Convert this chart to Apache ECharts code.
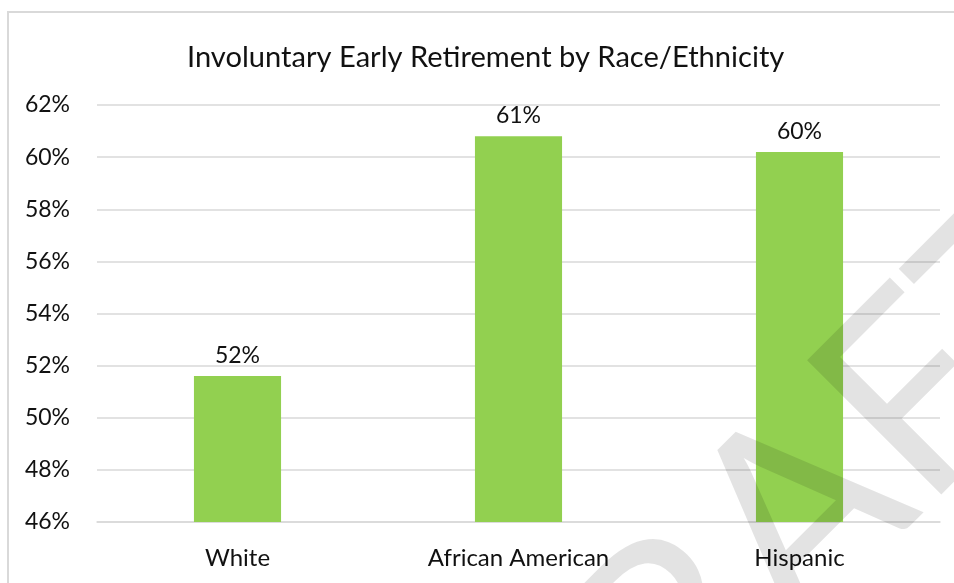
<!DOCTYPE html>
<html><head><meta charset="utf-8">
<script src="https://cdn.jsdelivr.net/npm/echarts@6/dist/echarts.min.js"></script>
<style>html,body{margin:0;padding:0;background:#fff}#c{width:954px;height:583px}</style>
</head><body><div id="c"></div>
<script>
const categories = ['White', 'African American', 'Hispanic'];
const values = [51.6, 60.8, 60.2];
const yMin = 46, yMax = 62, yStep = 2;
const titleText = 'Involuntary Early Retirement by Race/Ethnicity';
const watermark = 'DRAFT';

const FONT = 'Lato';
const chart = echarts.init(document.getElementById('c'), null, {renderer: 'canvas'});
chart.setOption({
  animation: false,
  backgroundColor: '#fff',
  title: {
    text: titleText, left: 182, top: 38,
    textStyle: {fontFamily: FONT, fontSize: 29.1, fontWeight: 'normal', color: '#111'}
  },
  grid: {left: 97, right: 14, top: 105, bottom: 61, containLabel: false},
  xAxis: {
    type: 'category', data: categories,
    axisLine: {lineStyle: {color: '#d9d9d9', width: 1.5}},
    axisTick: {show: false},
    axisLabel: {fontFamily: FONT, fontSize: 24, color: '#111', margin: 24}
  },
  yAxis: {
    type: 'value', min: yMin, max: yMax, interval: yStep,
    axisLine: {show: false}, axisTick: {show: false},
    splitLine: {lineStyle: {color: '#d9d9d9', width: 1.5}},
    axisLabel: {fontFamily: FONT, fontSize: 23, color: '#111', margin: 27, formatter: '{value}%'}
  },
  series: [{
    type: 'bar', data: values, barWidth: '31%',
    itemStyle: {color: '#92d050'},
    label: {show: true, position: 'top', distance: 9, fontFamily: FONT, fontSize: 23, color: '#111',
      formatter: p => Math.round(p.value) + '%'}
  }],
  graphic: [
    {type: 'rect', shape: {x: 8, y: 12, width: 1000, height: 700}, silent: true,
      style: {fill: 'none', stroke: '#d9d9d9', lineWidth: 2}, z: 100},
    {type: 'text', x: 477, y: 838, rotation: Math.PI / 4, silent: true, z: 200,
      style: {text: watermark, fontFamily: FONT, fontSize: 265, fontWeight: 'normal',
        fill: 'rgba(0,0,0,0.11)', align: 'left', verticalAlign: 'middle'}}
  ]
});
</script></body></html>
